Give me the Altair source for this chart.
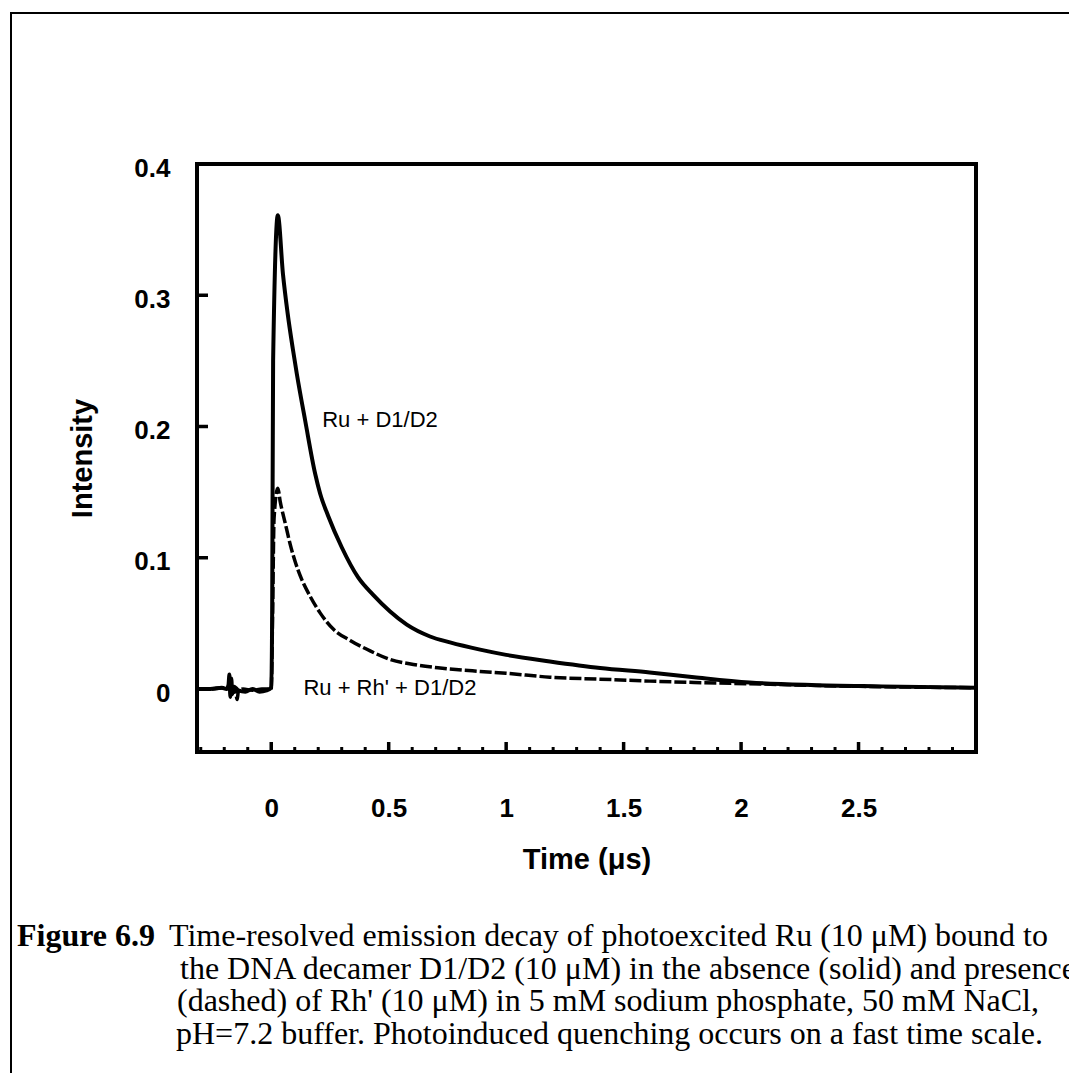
import altair as alt
import pandas as pd

# ---------------- data ----------------
# Ru + D1/D2 (solid)
t_solid = [-0.316, -0.26, -0.21, -0.19, -0.182, -0.178, -0.174, -0.170, -0.166, -0.160, -0.14,
           -0.11, -0.08, -0.05, -0.02, 0.0, 0.004, 0.008, 0.028, 0.050, 0.070, 0.092, 0.109,
           0.145, 0.187, 0.208, 0.242, 0.300, 0.370, 0.435, 0.506, 0.577, 0.676, 0.761,
           0.889, 1.000, 1.186, 1.400, 1.611, 1.800, 2.036, 2.300, 2.600, 3.000]
v_solid = [0.000, 0.000, 0.001, 0.000, 0.003, 0.011, -0.006, 0.008, -0.004, 0.002, -0.001,
           -0.002, 0.000, -0.002, -0.001, 0.001, 0.060, 0.250, 0.361, 0.316, 0.286, 0.259, 0.240,
           0.204, 0.164, 0.149, 0.132, 0.108, 0.085, 0.0715, 0.059, 0.049, 0.040, 0.0355,
           0.030, 0.026, 0.021, 0.016, 0.0126, 0.009, 0.005, 0.003, 0.002, 0.001]

# Ru + Rh' + D1/D2 (dashed)
t_dash = [-0.316, -0.25, -0.20, -0.16, -0.150, -0.145, -0.140, -0.12, -0.08, -0.04, 0.0,
          0.006, 0.012, 0.028, 0.038, 0.060, 0.081, 0.102, 0.131, 0.166, 0.208, 0.265,
          0.336, 0.421, 0.506, 0.605, 0.719, 0.889, 1.000, 1.186, 1.400, 1.611, 1.800,
          2.036, 2.500, 3.000]
v_dash = [0.000, 0.000, 0.001, 0.000, -0.004, -0.008, -0.002, 0.000, -0.001, 0.000, 0.000,
          0.060, 0.130, 0.153, 0.143, 0.126, 0.110, 0.097, 0.083, 0.0705, 0.058, 0.0455,
          0.0370, 0.029, 0.0225, 0.0187, 0.0160, 0.0134, 0.012, 0.0090, 0.0075, 0.006, 0.005,
          0.004, 0.002, 0.001]

x_label_values = [0, 0.5, 1, 1.5, 2, 2.5]
x_minor_ticks = [-0.3, -0.2, -0.1, 0.1, 0.2, 0.3, 0.4, 0.6, 0.7, 0.8, 0.9, 1.1, 1.2, 1.3, 1.4,
                 1.6, 1.7, 1.8, 1.9, 2.1, 2.2, 2.3, 2.4, 2.6, 2.7, 2.8, 2.9]
y_label_values = [0, 0.1, 0.2, 0.3, 0.4]
y_tick_marks = [0.1, 0.2, 0.3]

label_solid = "Ru + D1/D2"
label_dash = "Ru + Rh' + D1/D2"

caption_bold = "Figure 6.9"
caption_lines = [
    "Time-resolved emission decay of photoexcited Ru (10 \u03bcM) bound to",
    "the DNA decamer D1/D2 (10 \u03bcM) in the absence (solid) and presence",
    "(dashed) of Rh' (10 \u03bcM) in 5 mM sodium phosphate, 50 mM NaCl,",
    "pH=7.2 buffer. Photoinduced quenching occurs on a fast time scale.",
]

# ---------------- layout ----------------
W, H = 779, 588
X_DOM = [-0.316, 3.0]
Y_DOM = [-0.048, 0.4]
XPX = (X_DOM[1] - X_DOM[0]) / W   # data units per pixel
YPX = (Y_DOM[1] - Y_DOM[0]) / H

SANS = "Liberation Sans"
SERIF = "Liberation Serif"

xscale = alt.Scale(domain=X_DOM, nice=False, zero=False)
yscale = alt.Scale(domain=Y_DOM, nice=False, zero=False)

x_axis = alt.Axis(values=x_label_values, format=".1~f", domain=False, ticks=False, tickSize=0,
                  grid=False, labelFont=SANS, labelFontWeight="bold", labelFontSize=26,
                  labelBaseline="middle", labelPadding=56, labelOverlap=False, labelFlush=False,
                  labelColor="black", titleFont=SANS, titleFontWeight="bold", titleFontSize=29,
                  titleColor="black", titleX=W / 2, titleY=107, titleBaseline="middle",
                  titleAlign="center")
y_axis = alt.Axis(values=y_label_values, format=".1~f", domain=False, ticks=False, tickSize=0,
                  grid=False, labelFont=SANS, labelFontWeight="bold", labelFontSize=26,
                  labelBaseline="middle", labelPadding=27, labelOffset=4, labelOverlap=False,
                  labelFlush=False, labelColor="black", titleFont=SANS, titleFontWeight="bold",
                  titleFontSize=29, titleColor="black", titleX=-115, titleY=H / 2,
                  titleAngle=270, titleBaseline="middle", titleAlign="center")

X_TITLE = "Time (\u03bcs)"
Y_TITLE = "Intensity"

df_solid = pd.DataFrame({"t": t_solid, "v": v_solid})
df_dash = pd.DataFrame({"t": t_dash, "v": v_dash})

dashed = alt.Chart(df_dash).mark_line(color="black", strokeWidth=3.5, strokeDash=[12, 3],
                                      interpolate="monotone").encode(
    x=alt.X("t:Q", scale=xscale, axis=x_axis, title=X_TITLE),
    y=alt.Y("v:Q", scale=yscale, axis=y_axis, title=Y_TITLE),
    order="t:Q",
)
solid = alt.Chart(df_solid).mark_line(color="black", strokeWidth=4, interpolate="monotone").encode(
    x=alt.X("t:Q", scale=xscale, title=X_TITLE),
    y=alt.Y("v:Q", scale=yscale, title=Y_TITLE),
    order="t:Q",
)

minor_ticks = alt.Chart(pd.DataFrame({"t": x_minor_ticks})).mark_rule(color="black", strokeWidth=3).encode(
    x=alt.X("t:Q", scale=xscale, title=X_TITLE),
    y=alt.datum(Y_DOM[0]),
    y2=alt.datum(Y_DOM[0] + 5 * YPX),
)
major_ticks = alt.Chart(pd.DataFrame({"t": x_label_values})).mark_rule(color="black", strokeWidth=3.5).encode(
    x=alt.X("t:Q", scale=xscale, title=X_TITLE),
    y=alt.datum(Y_DOM[0]),
    y2=alt.datum(Y_DOM[0] + 10 * YPX),
)
y_ticks = alt.Chart(pd.DataFrame({"v": y_tick_marks})).mark_rule(color="black", strokeWidth=3.5).encode(
    y=alt.Y("v:Q", scale=yscale, title=Y_TITLE),
    x=alt.datum(X_DOM[0]),
    x2=alt.datum(X_DOM[0] + 11 * XPX),
)

one = alt.Data(values=[{}])

ann_solid = alt.Chart(one).mark_text(text=label_solid, font=SANS, fontSize=22, align="left",
                                     baseline="middle", color="black").encode(
    x=alt.datum(0.217), y=alt.datum(0.205))
ann_dash = alt.Chart(one).mark_text(text=label_dash, font=SANS, fontSize=22, align="left",
                                    baseline="middle", color="black").encode(
    x=alt.datum(0.137), y=alt.datum(0.001))

# outer frame of the figure (pixel offsets relative to plot origin)
frame_left = alt.Chart(one).mark_rule(color="black", strokeWidth=2).encode(
    x=alt.value(-186), y=alt.value(-151), y2=alt.value(1000))
frame_top = alt.Chart(one).mark_rule(color="black", strokeWidth=2).encode(
    x=alt.value(-187), x2=alt.value(1000), y=alt.value(-151))

CAP_SIZE = 32
cap_layers = [
    alt.Chart(one).mark_text(text=caption_bold, font=SERIF, fontWeight="bold", fontSize=CAP_SIZE,
                             align="left", baseline="alphabetic", color="black").encode(
        x=alt.value(17 - 197), y=alt.value(946 - 164))
]
cap_x = [169, 180, 177, 176]
cap_y = [946, 978.5, 1011, 1043.5]
for line, cx, cy in zip(caption_lines, cap_x, cap_y):
    cap_layers.append(
        alt.Chart(one).mark_text(text=line, font=SERIF, fontSize=CAP_SIZE, align="left",
                                 baseline="alphabetic", color="black").encode(
            x=alt.value(cx - 197), y=alt.value(cy - 164))
    )

chart = alt.layer(
    dashed, solid, minor_ticks, major_ticks, y_ticks, ann_solid, ann_dash,
    frame_left, frame_top, *cap_layers
).properties(
    width=W, height=H,
    autosize=alt.AutoSizeParams(type="none"),
    padding={"left": 189, "top": 156, "right": 93, "bottom": 321},
    background="white",
).configure_view(
    stroke="black", strokeWidth=4
)

chart.save("out.html", embed_options={"renderer": "svg", "actions": False})
